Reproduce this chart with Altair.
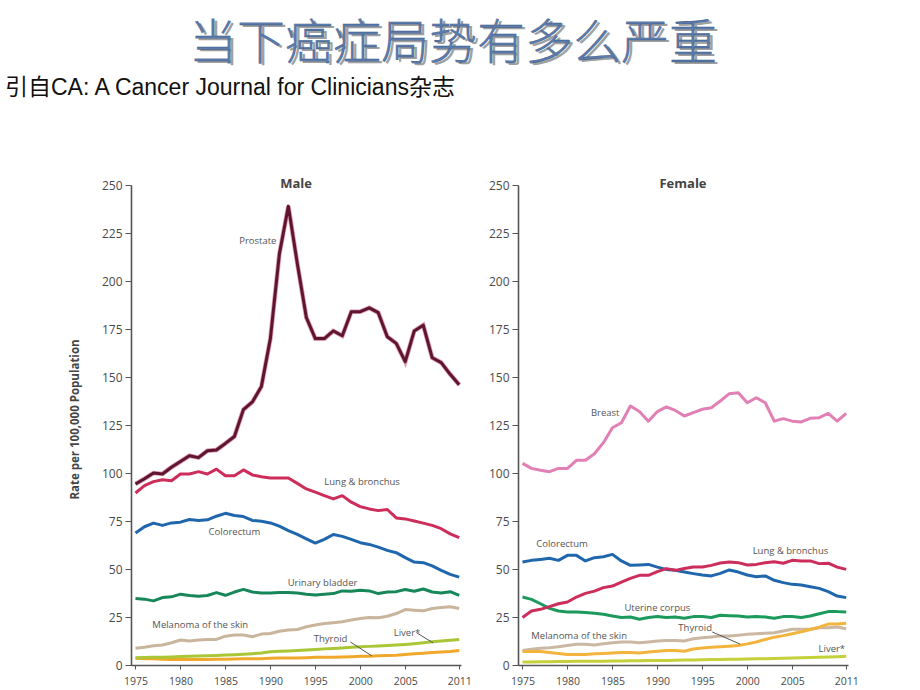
import altair as alt
import pandas as pd

years = list(range(1975, 2012))

# ---------------- Male (rate per 100,000) ----------------
male_prostate = [94.3, 97, 100, 99.5, 103, 106, 109, 108, 111.6, 112, 115.4, 119, 133, 137, 145,
                 170, 214, 239, 209, 181, 170, 170, 174, 171.5, 184, 184, 186, 183.5, 171, 167.5,
                 158, 174, 177, 160, 157.5, 151.4, 146]
male_lung = [89.6, 93.4, 95.5, 96.5, 96, 99.5, 99.5, 100.7, 99.5, 102, 98.6, 98.6, 101.6, 99, 98,
             97.4, 97.4, 97.4, 94.6, 91.7, 90, 88.2, 86.5, 88.2, 84.8, 82.5, 81.3, 80.4, 81, 76.6,
             76.1, 75, 73.9, 72.7, 71, 68.3, 66.3]
male_colorectum = [68.7, 72, 73.9, 72.7, 74, 74.4, 75.8, 75.3, 75.6, 77.5, 79, 77.9, 77.3, 75.3, 74.9,
                   74, 72.3, 70, 68, 65.7, 63.5, 65.4, 68, 67, 65.4, 63.7, 62.8, 61.4, 59.7, 58.5,
                   55.9, 53.6, 53.3, 51.6, 49.3, 47.2, 45.8]
male_bladder = [34.6, 34.3, 33.4, 35.1, 35.5, 36.9, 36.2, 35.8, 36.2, 37.7, 36.3, 38, 39.4, 38, 37.5,
                37.5, 37.7, 37.7, 37.5, 36.9, 36.5, 36.9, 37.2, 38.6, 38.4, 38.9, 38.6, 37.2, 38, 38.2,
                39.3, 38.4, 39.6, 38, 37.5, 38.2, 36.3]
male_melanoma = [8.7, 9.2, 10, 10.4, 11.6, 13, 12.5, 13, 13.3, 13.3, 15, 15.6, 15.6, 14.7, 16.1,
                 16.4, 17.6, 18.2, 18.5, 19.9, 20.8, 21.6, 22, 22.5, 23.4, 24.2, 24.7, 24.6, 25.4, 26.8,
                 28.9, 28.5, 28.2, 29.4, 29.9, 30.3, 29.4]
male_liver = [3.8, 3.9, 4.0, 4.1, 4.2, 4.4, 4.5, 4.7, 4.8, 5.0, 5.2, 5.4, 5.6, 5.9, 6.3,
              6.9, 7.1, 7.3, 7.5, 7.8, 8.1, 8.4, 8.6, 8.9, 9.2, 9.5, 9.7, 9.9, 10.2, 10.4,
              10.7, 11.1, 11.6, 12.1, 12.5, 12.9, 13.3]
male_thyroid = [3.5, 3.3, 3.2, 3.0, 2.9, 2.8, 2.8, 2.9, 2.9, 3.0, 3.0, 3.1, 3.2, 3.2, 3.3,
                3.5, 3.6, 3.6, 3.7, 3.8, 4.0, 4.0, 4.1, 4.2, 4.3, 4.5, 4.6, 4.8, 4.9, 5.1,
                5.5, 5.8, 6.1, 6.5, 6.8, 7.0, 7.5]

# ---------------- Female ----------------
female_breast = [105, 102.4, 101.4, 100.7, 102.4, 102.4, 106.6, 106.6, 110, 115.8, 123.6, 126.2, 134.9,
                 132, 127, 132, 134.4, 132.6, 129.7, 131.4, 133.2, 134, 137.5, 141.3, 141.8, 136.6,
                 139.2, 136.6, 127, 128.3, 127, 126.6, 128.5, 128.8, 131, 127, 131]
female_colorectum = [53.6, 54.5, 55, 55.6, 54.5, 57.1, 57.1, 54.2, 55.9, 56.4, 57.6, 54.2, 51.9, 52.1,
                     52.4, 51, 49.8, 49.3, 48.4, 47.6, 46.9, 46.4, 47.7, 49.5, 48.4, 46.9, 46, 46.4,
                     44.1, 42.9, 42, 41.7, 40.8, 39.9, 38.2, 35.9, 35.1]
female_lung = [24.7, 28.1, 29, 30.4, 31.9, 32.8, 35.4, 37.3, 38.5, 40.3, 41.1, 43.2, 45.1, 46.7, 46.7,
               48.6, 50.2, 49.3, 50.3, 51, 51, 51.9, 53.1, 53.6, 53.3, 52.1, 52.4, 53.3, 53.8, 53,
               54.5, 54.2, 54.2, 52.8, 53, 51, 49.8]
female_uterine = [35.4, 34.2, 31.9, 29.5, 28.1, 27.6, 27.6, 27.3, 26.9, 26.4, 25.5, 24.7, 25, 23.8,
                  24.7, 25.2, 24.7, 25, 24.3, 25.2, 25.2, 24.7, 25.9, 25.7, 25.5, 25, 25.3, 25, 24.3,
                  25.2, 25.2, 24.7, 25.5, 26.7, 27.8, 27.8, 27.6]
female_melanoma = [7.6, 8.2, 8.7, 9, 9.5, 10.2, 10.8, 10.8, 10.4, 11.1, 11.6, 12, 12, 11.6, 12, 12.5,
                   12.8, 12.8, 12.5, 13.7, 14.2, 14.6, 15.1, 15.1, 15.5, 16, 16.3, 16.5, 16.8, 17.7,
                   18.6, 18.6, 18.6, 19.4, 19.4, 19.8, 18.9]
female_thyroid = [7, 7, 7, 6.5, 6, 5.5, 5.5, 5.5, 5.8, 6, 6.3, 6.5, 6.5, 6.3, 6.8, 7.2, 7.5, 7.5, 7.2,
                  8.3, 8.8, 9.2, 9.5, 9.8, 10.2, 11, 12, 13.3, 14.5, 15.3, 16.3, 17.3, 18.5, 19.7,
                  21.3, 21.3, 21.7]
female_liver = [1.6, 1.6, 1.7, 1.7, 1.8, 1.8, 1.9, 1.9, 2.0, 2.0, 2.1, 2.1, 2.2, 2.2, 2.3, 2.4, 2.4,
                2.5, 2.6, 2.6, 2.7, 2.8, 2.9, 3.0, 3.0, 3.1, 3.2, 3.3, 3.4, 3.5, 3.6, 3.8, 3.9, 4.0,
                4.2, 4.3, 4.5]

male_series = [
    ("Thyroid", male_thyroid, "#f0a82c"),
    ("Liver*", male_liver, "#a9c637"),
    ("Melanoma of the skin", male_melanoma, "#c8b59c"),
    ("Urinary bladder", male_bladder, "#17875a"),
    ("Colorectum", male_colorectum, "#1f66ad"),
    ("Lung & bronchus", male_lung, "#cc2d5a"),
    ("Prostate", male_prostate, "#5e1532"),
]
female_series = [
    ("Liver*", female_liver, "#c5d13a"),
    ("Melanoma of the skin", female_melanoma, "#cbb8a3"),
    ("Thyroid", female_thyroid, "#f3b43e"),
    ("Uterine corpus", female_uterine, "#1b9a5c"),
    ("Colorectum", female_colorectum, "#1f66ad"),
    ("Lung & bronchus", female_lung, "#cc2d5a"),
    ("Breast", female_breast, "#e27fb5"),
]

# label positions (year, value)
male_label_text = ["Prostate", "Lung & bronchus", "Colorectum", "Urinary bladder",
                   "Melanoma of the skin", "Thyroid", "Liver*"]
male_label_x = [1988.6, 2000.2, 1986.0, 1995.8, 1982.2, 1996.7, 2005.2]
male_label_y = [220.8, 95.3, 69.3, 42.7, 20.8, 13.5, 16.7]
male_leader_x = [1998.9, 2006.3]
male_leader_x2 = [2001.3, 2008.1]
male_leader_y = [12.0, 16.7]
male_leader_y2 = [4.7, 11.5]

female_label_text = ["Breast", "Colorectum", "Lung & bronchus", "Uterine corpus",
                     "Melanoma of the skin", "Thyroid", "Liver*"]
female_label_x = [1984.2, 1979.4, 2004.8, 1990.0, 1981.3, 1994.2, 2009.4]
female_label_y = [131.3, 63.0, 59.4, 29.7, 15.1, 19.3, 8.3]
female_leader_x = [1996.1]
female_leader_x2 = [1999.2]
female_leader_y = [17.2]
female_leader_y2 = [10.9]

FONT = "Open Sans"
W, H = 330, 480
xdom = [1974.5, 2011.2]
xticks = [1975, 1980, 1985, 1990, 1995, 2000, 2005, 2011]
yticks = [i * 12.5 for i in range(21)]


def xenc():
    return alt.X("year:Q", scale=alt.Scale(domain=xdom, nice=False, zero=False),
                 axis=alt.Axis(values=xticks, format="d", grid=False, title=None,
                               tickSize=4, labelPadding=7, labelFontSize=10.5,
                               labelColor="#4a4a4a", labelFont=FONT, domainColor="#555",
                               tickColor="#555", domainWidth=1.6, labelFlush=False))


def yenc(title=None):
    ax = dict(values=yticks, grid=False, tickSize=6, labelPadding=3, labelFontSize=12,
              labelColor="#4a4a4a", labelFont=FONT, domainColor="#555", tickColor="#555",
              domainWidth=1.6, labelExpr="datum.value % 25 == 0 ? datum.label : ''",
              labelFlush=False)
    if title:
        ax.update(title=title, titleFont=FONT, titleFontSize=11.5, titleFontWeight="bold",
                  titleColor="#444", titleX=-56, titleY=234, titleAngle=-90,
                  titleAlign="center", titleBaseline="middle")
    else:
        ax.update(title=None)
    return alt.Y("value:Q", scale=alt.Scale(domain=[0, 250], nice=False), axis=alt.Axis(**ax))


def panel(series, ltext, lx, ly, rx, rx2, ry, ry2, name, ytitle=None, extra=None):
    layers = []
    for sname, vals, col in series:
        df = pd.DataFrame({"year": years, "value": vals, "series": sname})
        base = alt.Chart(df).encode(x=xenc(), y=yenc(ytitle))
        if sname == "Prostate":
            layers.append(base.mark_line(color="#d0708f", strokeWidth=4.6, opacity=0.7))
        layers.append(base.mark_line(color=col, strokeWidth=3, strokeJoin="round"))
    lead = pd.DataFrame({"year": rx, "year2": rx2, "value": ry, "value2": ry2})
    layers.append(alt.Chart(lead).mark_rule(color="#555", strokeWidth=1).encode(
        x="year:Q", x2="year2:Q", y="value:Q", y2="value2:Q"))
    lab = pd.DataFrame({"year": lx, "value": ly, "label": ltext})
    layers.append(alt.Chart(lab).mark_text(font=FONT, fontSize=9.5, color="#555").encode(
        x="year:Q", y="value:Q", text="label:N"))
    ttl = pd.DataFrame({"t": [name]})
    layers.append(alt.Chart(ttl).mark_text(font=FONT, fontSize=13, fontWeight="bold",
                                           color="#444", baseline="middle").encode(
        x=alt.value(W / 2), y=alt.value(-1), text="t:N"))
    if extra:
        layers.extend(extra)
    return alt.layer(*layers).properties(width=W, height=H)


main_title = "当下癌症局势有多么严重"
subtitle = "引自CA: A Cancer Journal for Clinicians杂志"
tdf = pd.DataFrame({"t": [main_title]})
sdf = pd.DataFrame({"t": [subtitle]})
title_layers = [
    alt.Chart(tdf).mark_text(font="Noto Sans CJK SC", fontSize=48, fontWeight=300,
                             color="#a0a0a0", baseline="middle", align="center").encode(
        x=alt.value(325), y=alt.value(-138), text="t:N"),
    alt.Chart(tdf).mark_text(font="Noto Sans CJK SC", fontSize=48, fontWeight=300,
                             color="#5a7bab", stroke="#2f4f80", strokeWidth=0.3,
                             baseline="middle", align="center").encode(
        x=alt.value(322), y=alt.value(-140), text="t:N"),
    alt.Chart(sdf).mark_text(font="Liberation Sans, Noto Sans CJK SC", fontSize=23,
                             color="#111", baseline="middle", align="left").encode(
        x=alt.value(-126), y=alt.value(-97), text="t:N"),
]

male = panel(male_series, male_label_text, male_label_x, male_label_y,
             male_leader_x, male_leader_x2, male_leader_y, male_leader_y2,
             "Male", ytitle="Rate per 100,000 Population", extra=title_layers)
female = panel(female_series, female_label_text, female_label_x, female_label_y,
               female_leader_x, female_leader_x2, female_leader_y, female_leader_y2,
               "Female")

chart = alt.hconcat(male, female, spacing=57, bounds="flush").properties(
    padding={"left": 5, "top": 21, "right": 0, "bottom": 0},
    background="white",
).configure_view(stroke=None)

chart.save("out.html", embed_options={"renderer": "svg", "actions": False})
